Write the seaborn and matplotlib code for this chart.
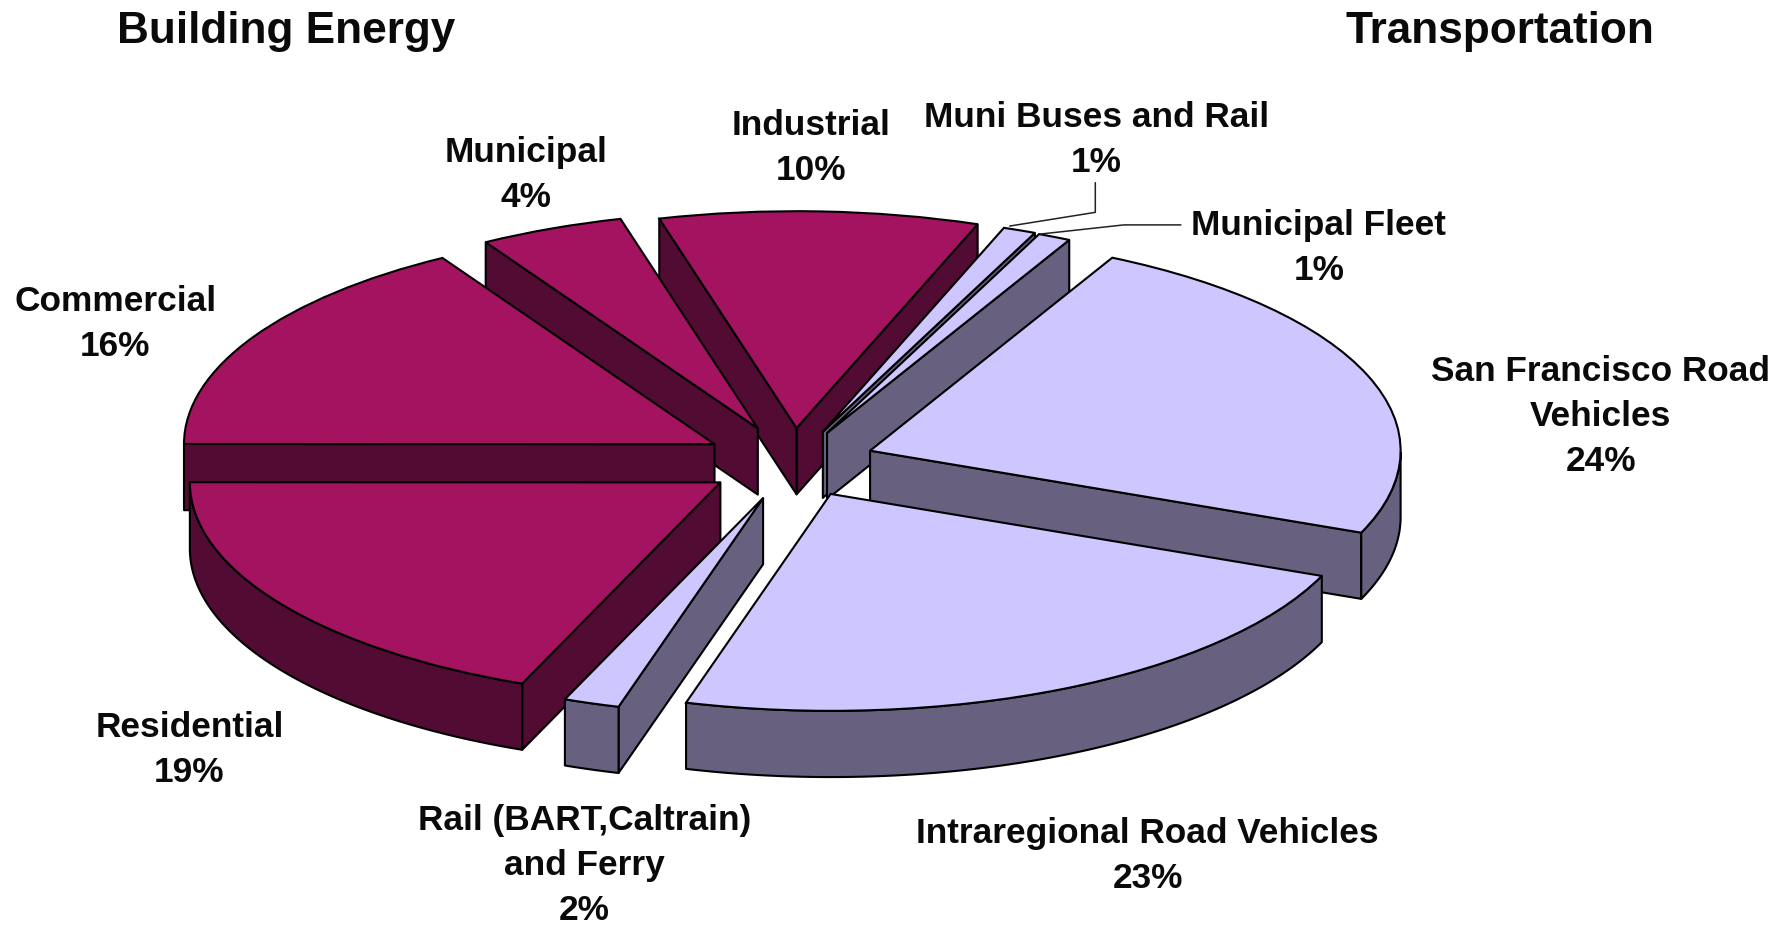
"""
San Francisco emissions split as an exploded 3D style pie.
Tops come from ax.pie, side walls are extruded from the wedges it returns.
"""

import numpy as np
import matplotlib
matplotlib.use("Agg")
import matplotlib.pyplot as plt
import seaborn as sns

# --- data, clockwise from the top slice (slice sizes, labels show them rounded)
labels = ["Industrial", "Muni Buses and Rail", "Municipal Fleet",
          "San Francisco Road\nVehicles", "Intraregional Road Vehicles",
          "Rail (BART,Caltrain)\nand Ferry", "Residential", "Commercial", "Municipal"]
shares = [9.7, 1.0, 1.0, 23.6, 23.2, 1.7, 18.9, 16.4, 4.4]
groups = ["building", "transport", "transport", "transport", "transport",
          "transport", "building", "building", "building"]
titles = ["Building Energy", "Transportation"]

# --- layout, in pixels of the 1568 wide preview
W, H = 1568, 812
CX, CY, RX, RY = 695, 405, 465, 190
DEPTH = 58 / RY
START = 105
explode = [0.158, 0.152, 0.15, 0.155, 0.162, 0.174, 0.165, 0.17, 0.17]

label_pos = [(711, 130), (961, 123), (1156, 217), (1403, 365), (1006, 750),
             (512, 758), (166, 657), (101, 284), (461, 153)]
title_pos = [(251, 28), (1315, 28)]

top_col = {"building": "#A3135F", "transport": "#CEC6FE"}
side_col = {"building": "#520B32", "transport": "#67617F"}
EDGE = "#000000"


def to_data(x, y):
    return (x - CX) / RX, (CY - y) / RY


def draw_walls(ax, w, colour, z):
    cx, cy = w.center
    style = dict(fc=colour, ec=EDGE, lw=1.5, joinstyle="round", zorder=z)

    # cut faces looking towards the viewer
    for a, sign in ((w.theta1, 1), (w.theta2, -1)):
        if sign * np.cos(np.radians(a)) > 0:
            ex, ey = cx + np.cos(np.radians(a)), cy + np.sin(np.radians(a))
            ax.fill([cx, ex, ex, cx], [cy, ey, ey - DEPTH, cy - DEPTH], **style)

    # outer rim on the front half only
    t = np.radians(np.linspace(w.theta1, w.theta2, 200))
    t = t[np.sin(t) <= 0]
    if len(t) > 1:
        rx = cx + np.cos(t)
        ry = cy + np.sin(t)
        ax.fill(np.r_[rx, rx[::-1]], np.r_[ry, ry[::-1] - DEPTH], **style)


def leader(ax, points):
    xs, ys = zip(*[to_data(*p) for p in points])
    ax.plot(xs, ys, color="#222222", lw=1.1, zorder=40)


def main():
    sns.set_theme(style="white")
    plt.rcParams["font.family"] = ["Liberation Sans", "DejaVu Sans"]

    fig = plt.figure(figsize=(17.89, 9.27), dpi=100)
    ax = fig.add_axes([0, 0, 1, 1])

    colours = sns.color_palette([top_col[g] for g in groups])
    wedges, _ = ax.pie(shares, explode=explode, startangle=START,
                       counterclock=False, colors=colours, radius=1,
                       wedgeprops=dict(ec=EDGE, lw=1.5))
    ax.set_aspect("auto")
    ax.set_xlim(to_data(0, 0)[0], to_data(W, 0)[0])
    ax.set_ylim(to_data(0, H)[1], to_data(0, 0)[1])
    ax.axis("off")

    # paint from the back of the pie to the front
    mids = [np.sin(np.radians((w.theta1 + w.theta2) / 2)) for w in wedges]
    for rank, i in enumerate(np.argsort(mids)[::-1]):
        draw_walls(ax, wedges[i], side_col[groups[i]], 2 * rank + 2)
        wedges[i].set_zorder(2 * rank + 3)

    for name, share, (x, y) in zip(labels, shares, label_pos):
        tx, ty = to_data(x, y)
        ax.text(tx, ty, f"{name}\n{share:.0f}%", ha="center", va="center", fontsize=25.4,
                fontweight="bold", color="#0a0a0a", linespacing=1.46, zorder=50)

    for name, (x, y) in zip(titles, title_pos):
        tx, ty = to_data(x, y)
        ax.text(tx, ty, name, ha="center", va="center", fontsize=31.8,
                fontweight="bold", color="#0a0a0a", zorder=50)

    leader(ax, [(960, 160), (960, 186), (885, 198)])
    leader(ax, [(1035, 197), (985, 197), (912, 205)])

    fig.savefig("out.png", dpi=100, facecolor="white")


if __name__ == "__main__":
    main()
